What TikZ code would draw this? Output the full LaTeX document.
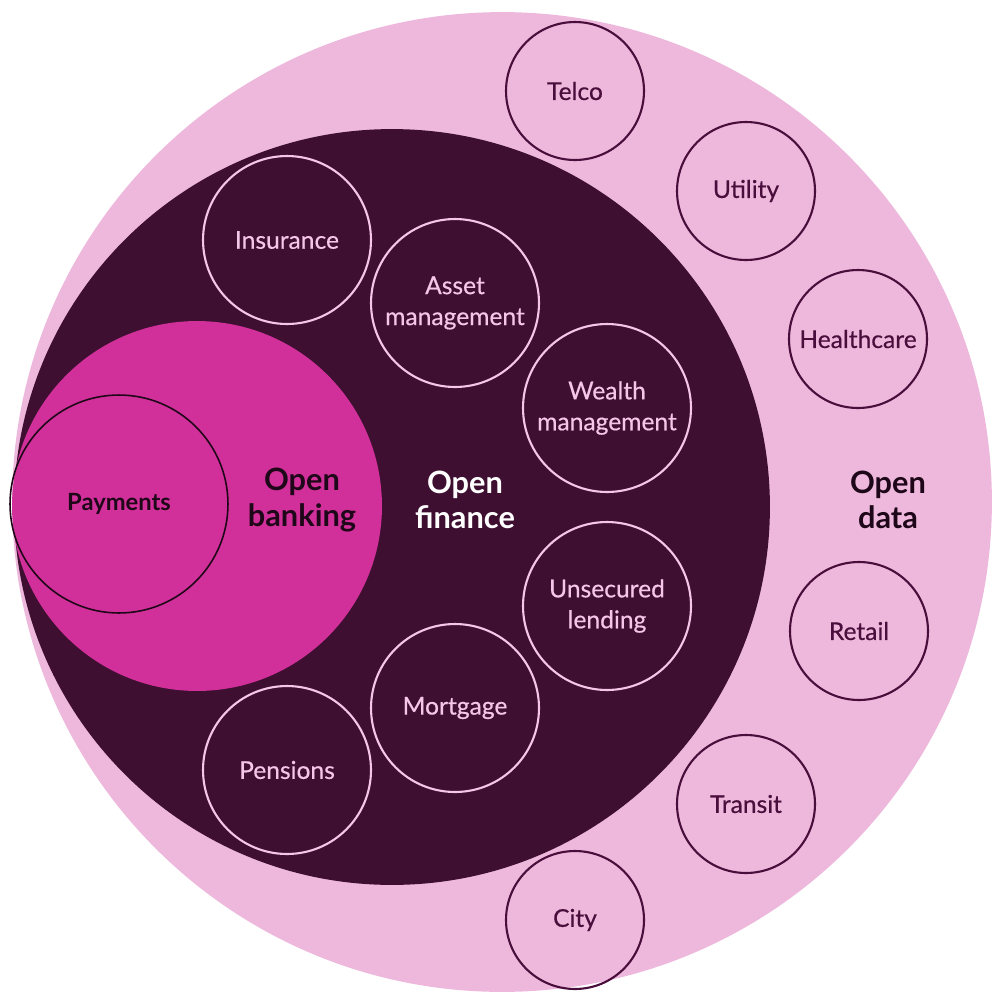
\documentclass[tikz,border=0pt]{standalone}
\usepackage{fontspec}
\setmainfont{Lato}
\newfontfamily\labelfont{Lato}[FakeBold=0.4]
\usetikzlibrary{positioning}
\definecolor{datapink}{HTML}{EDB8DC}
\definecolor{findark}{HTML}{3E0F30}
\definecolor{bankpink}{HTML}{D12F99}
\definecolor{finline}{HTML}{F4C6E8}
\definecolor{dataline}{HTML}{4A0E3C}
\definecolor{labelink}{HTML}{1E0718}
\tikzset{
  region/.style={circle, inner sep=0pt},
  fincircle/.style={
    circle,
    draw=finline,
    line width=1.2pt,
    minimum size=3.36cm,
    inner sep=0pt,
    align=center,
    text=finline,
    font=\labelfont\fontsize{14}{17.6}\selectfont
  },
  datacircle/.style={
    circle,
    draw=dataline,
    line width=1.2pt,
    minimum size=2.76cm,
    inner sep=0pt,
    align=center,
    text=dataline,
    font=\labelfont\fontsize{14}{17.6}\selectfont
  },
  bigtext/.style={align=center, font=\bfseries\fontsize{17.5}{20}\selectfont}
}

\begin{document}
\begin{tikzpicture}[x=0.02cm,y=-0.02cm]
\useasboundingbox (0,0) rectangle (992,998);

% nested areas
\node[region, fill=datapink, minimum size=19.6cm] (data) at (502,502) {};
\node[region, fill=findark, minimum size=15.12cm] (finance) at (392,507) {};
\node[region, fill=bankpink, minimum size=7.4cm] (banking) at (197,506) {};
\node[region, draw=labelink, line width=0.9pt, minimum size=4.36cm,
  text=labelink, font=\bfseries\fontsize{13.5}{17.6}\selectfont] (payments) at (119,504) {Payments};

% area titles
\node[bigtext, text=labelink] (bankingText) at (302,500) {Open\\banking};
\node[bigtext, text=white] (financeText) at (465,500) {Open\\finance};
\node[bigtext, text=labelink] (dataText) at (888,500) {Open\\data};

% open finance
\node[fincircle] (insurance) at (287,240) {Insurance};
\node[fincircle] (asset) at (455,303) {Asset\\management};
\node[fincircle] (wealth) at (607,408) {Wealth\\management};
\node[fincircle] (unsecured) at (607,606) {Unsecured\\lending};
\node[fincircle] (mortgage) at (455,708) {Mortgage};
\node[fincircle] (pensions) at (287,770) {Pensions};

% open data
\node[datacircle] (telco) at (575,91) {Telco};
\node[datacircle] (utility) at (746,191) {Utility};
\node[datacircle] (healthcare) at (858,339) {Healthcare};
\node[datacircle] (retail) at (859,631) {Retail};
\node[datacircle] (transit) at (746,804) {Transit};
\node[datacircle] (city) at (575,920) {City};
\end{tikzpicture}
\end{document}
